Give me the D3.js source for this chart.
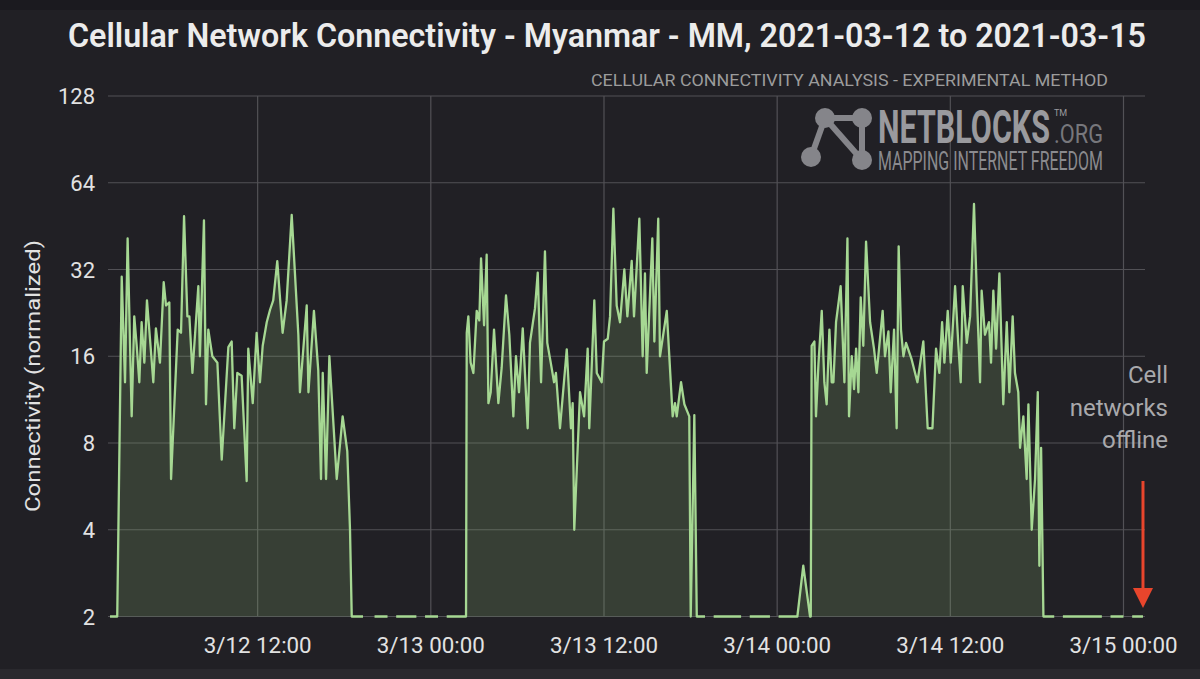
<!DOCTYPE html>
<html>
<head>
<meta charset="utf-8">
<script src="https://cdn.jsdelivr.net/npm/d3@7"></script>
<style>
body { margin: 0; background: #212025; }
svg { display: block; font-family: Roboto, "Noto Sans", sans-serif; }
</style>
</head>
<body>
<div id="chart"></div>
<script>
// hours after 2021-03-12 00:00, normalized connectivity (null = gap)
var dayOne = [[1.77,2],[2.27,2],[2.58,30.2],[2.81,13],[2.99,41],[3.27,9.9],[3.45,22],[3.62,17.4],[3.80,13],[3.96,21],[4.15,15.2],[4.33,25],[4.54,18.4],[4.77,13],[4.95,20],[5.23,15.2],[5.49,28.9],[5.65,24],[5.88,24.6],[6.0,6.0],[6.46,19.8],[6.69,19.3],[6.90,49],[7.13,22],[7.27,22],[7.48,14],[7.89,28],[8.0,16],[8.28,47.4],[8.42,10.9],[8.58,19.8],[8.86,16],[9.21,15.2],[9.51,7],[9.97,17.2],[10.2,18],[10.38,9],[10.59,14],[10.89,13.7],[11.24,5.9],[11.35,17],[11.66,11],[11.93,19.3],[12.16,13],[12.35,17.4],[12.63,21],[12.86,23.2],[13.08,25],[13.36,34.2],[13.73,19.3],[14.01,25],[14.36,49.5],[14.82,19],[14.93,12],[15.40,24],[15.52,12],[15.90,23],[16.2,14.3],[16.39,6],[16.51,14],[16.74,6],[16.97,16],[17.48,6],[17.89,9.9],[18.21,7.5],[18.40,4],[18.52,2]];
var offlineOne = [[19.3,2],[19.8,null],[20.1,2],[21.0,2],[21.3,null],[21.6,2],[23.0,2],[23.3,null],[23.6,2],[24.5,2],[24.8,null],[25.1,2],[26.37,2]];
var dayTwo = [[26.44,2],[26.49,19.3],[26.6,22],[26.76,15.2],[26.95,14],[27.18,23],[27.36,21.3],[27.48,35],[27.69,20.5],[27.87,36],[27.99,11],[28.15,12],[28.38,19.8],[28.68,11],[28.91,14.6],[29.21,26],[29.44,19],[29.72,9.9],[29.90,16],[30.11,12],[30.37,20],[30.71,9],[30.87,17.8],[31.22,23.5],[31.41,31.2],[31.64,13],[31.91,37],[32.07,17.8],[32.31,15.2],[32.54,13],[32.67,14],[32.95,9],[33.42,16.9],[33.71,9],[33.83,11],[33.94,4],[34.34,12],[34.62,9.9],[34.87,17],[34.98,9],[35.33,25],[35.50,14],[35.84,13],[36.0,18],[36.26,18.4],[36.42,22],[36.65,52],[36.88,24],[37.11,21],[37.41,32],[37.62,22],[37.92,34.3],[38.08,22],[38.45,48],[38.68,16],[38.84,31],[38.96,14],[39.35,41],[39.49,18],[39.76,48],[39.88,16],[40.35,23],[40.76,9.9],[40.92,11],[41.04,9.9],[41.34,13],[41.57,10.9],[41.91,9.9],[42.01,2],[42.26,10],[42.43,2]];
var offlineTwo = [[43.0,2],[43.3,null],[43.6,2],[45.5,2],[45.8,null],[46.1,2],[47.5,2],[47.8,null],[48.1,2],[49.40,2]];
var dayThree = [[49.81,3],[50.28,2],[50.33,2],[50.39,17.4],[50.58,18],[50.69,9.9],[50.86,15],[51.09,23],[51.27,13],[51.43,10.9],[51.62,19.8],[51.78,13],[51.90,13],[52.08,21],[52.40,28],[52.66,13],[52.87,41],[52.98,9.9],[53.17,16],[53.33,12.3],[53.47,17],[53.63,12],[53.79,25.6],[53.97,17.4],[54.16,40],[54.44,21],[54.71,17],[54.90,14],[55.31,23],[55.47,16],[55.71,19.5],[55.87,12],[56.10,19.8],[56.28,9],[56.42,38.5],[56.58,19.8],[56.75,16],[56.93,17.8],[57.32,15.6],[57.72,13],[58.13,18],[58.43,9],[58.76,9],[59.01,17],[59.24,14],[59.43,21],[59.59,15.2],[59.82,23],[60.03,15.2],[60.33,28],[60.56,17.4],[60.72,13],[60.86,28],[61.14,17.8],[61.37,22],[61.64,54],[61.83,27],[62.06,13],[62.17,27],[62.40,19],[62.68,21],[62.82,15.2],[62.98,27],[63.17,17],[63.40,31],[63.67,10.9],[63.91,21],[64.09,12],[64.32,22],[64.48,14],[64.71,12],[64.83,7.7],[65.06,9.9],[65.29,6],[65.41,10.9],[65.64,4],[65.87,6],[66.06,12],[66.17,3],[66.29,7.7],[66.45,2]];
var offlineThree = [[67.2,2],[67.5,null],[67.8,2],[70.5,2],[70.8,null],[71.1,2],[72.0,2],[72.3,null],[72.6,2],[73.35,2]];

var yTicks = [2, 4, 8, 16, 32, 64, 128];
var xTickHours = [12, 24, 36, 48, 60, 72];
var viewHours = [1.63, 73.49];
var titleText = 'Cellular Network Connectivity - Myanmar - MM, 2021-03-12 to 2021-03-15';
var subtitleText = 'CELLULAR CONNECTIVITY ANALYSIS - EXPERIMENTAL METHOD';
var yLabel = 'Connectivity (normalized)';
var noteLines = ['Cell', 'networks', 'offline'];
var offlineAt = 73.35;

var W = 1200, H = 679;
var margin = {top: 96, right: 55, bottom: 62, left: 108};
var origin = Date.UTC(2021, 2, 12);
function toDate(h) { return new Date(origin + h * 3600e3); }

var data = dayOne.concat(offlineOne, dayTwo, offlineTwo, dayThree, offlineThree)
    .map(function(d) { return {t: toDate(d[0]), v: d[1]}; });

var svg = d3.select('#chart').append('svg')
    .attr('width', W).attr('height', H);

svg.append('rect').attr('width', W).attr('height', H).attr('fill', '#212025');
svg.append('rect').attr('width', W).attr('height', 10).attr('fill', '#1b1a1f');
svg.append('rect').attr('y', 669).attr('width', W).attr('height', 10).attr('fill', '#2a292e');

var x = d3.scaleUtc()
    .domain(viewHours.map(toDate))
    .range([margin.left, W - margin.right]);
var y = d3.scaleLog().base(2)
    .domain([2, 128])
    .range([H - margin.bottom - 0.5, margin.top]);

// gridlines
var grid = svg.append('g').attr('stroke', '#525156').attr('stroke-width', 1.2);
grid.selectAll('line.h').data(yTicks).enter().append('line')
    .attr('x1', margin.left).attr('x2', W - margin.right)
    .attr('y1', function(d) { return y(d); }).attr('y2', function(d) { return y(d); });
grid.selectAll('line.v').data(xTickHours).enter().append('line')
    .attr('x1', function(d) { return x(toDate(d)); }).attr('x2', function(d) { return x(toDate(d)); })
    .attr('y1', y(128)).attr('y2', y(2));

// y axis labels
svg.append('g').selectAll('text').data(yTicks).enter().append('text')
    .attr('x', 95).attr('y', function(d) { return y(d) + 8; })
    .attr('text-anchor', 'end')
    .attr('fill', '#e2e2e2').attr('font-size', 22)
    .text(function(d) { return d; });

// x axis labels
var fmt = d3.utcFormat('%-m/%-d %H:%M');
svg.append('g').selectAll('text').data(xTickHours).enter().append('text')
    .attr('x', function(d) { return x(toDate(d)); }).attr('y', 653)
    .attr('text-anchor', 'middle')
    .attr('fill', '#e2e2e2').attr('font-size', 22)
    .attr('textLength', 108).attr('lengthAdjust', 'spacingAndGlyphs')
    .text(function(d) { return fmt(toDate(d)); });

svg.append('text')
    .attr('transform', 'translate(40,376) rotate(-90)')
    .attr('text-anchor', 'middle')
    .attr('fill', '#e2e2e2').attr('font-size', 21)
    .attr('textLength', 272).attr('lengthAdjust', 'spacingAndGlyphs')
    .text(yLabel);

// area + line
var area = d3.area()
    .defined(function(d) { return d.v != null; })
    .x(function(d) { return x(d.t); })
    .y0(y(2))
    .y1(function(d) { return y(d.v); });
var line = d3.line()
    .defined(function(d) { return d.v != null; })
    .x(function(d) { return x(d.t); })
    .y(function(d) { return y(d.v); });

svg.append('path').datum(data)
    .attr('fill', '#8fbf7a').attr('fill-opacity', 0.2)
    .attr('d', area);
svg.append('path').datum(data)
    .attr('fill', 'none')
    .attr('stroke', '#a6d893')
    .attr('stroke-width', 2.3)
    .attr('stroke-linejoin', 'round')
    .attr('d', line);

// title
svg.append('text')
    .attr('x', 68).attr('y', 47)
    .attr('fill', '#ececec').attr('font-size', 33).attr('font-weight', 600)
    .attr('textLength', 1078).attr('lengthAdjust', 'spacingAndGlyphs')
    .text(titleText);
svg.append('text')
    .attr('x', 591).attr('y', 86)
    .attr('fill', '#9c9c9c').attr('font-size', 17)
    .attr('textLength', 517).attr('lengthAdjust', 'spacingAndGlyphs')
    .text(subtitleText);

// watermark
var logo = svg.append('g').attr('fill', '#85858a').attr('stroke', '#85858a');
var nodes = [[825,118],[862,118],[811,157],[862,160]];
var links = [[0,1],[0,2],[0,3],[1,3]];
logo.selectAll('line').data(links).enter().append('line')
    .attr('x1', function(d) { return nodes[d[0]][0]; }).attr('y1', function(d) { return nodes[d[0]][1]; })
    .attr('x2', function(d) { return nodes[d[1]][0]; }).attr('y2', function(d) { return nodes[d[1]][1]; })
    .attr('stroke-width', 6);
logo.selectAll('circle').data(nodes).enter().append('circle')
    .attr('cx', function(d) { return d[0]; }).attr('cy', function(d) { return d[1]; })
    .attr('r', 10).attr('stroke', 'none');
logo.append('text').attr('x', 878).attr('y', 143).attr('stroke', 'none')
    .attr('font-size', 46).attr('font-weight', 700).attr('fill', '#9a9a9e')
    .attr('textLength', 172).attr('lengthAdjust', 'spacingAndGlyphs').text('NETBLOCKS');
logo.append('text').attr('x', 1054).attr('y', 116).attr('stroke', 'none')
    .attr('font-size', 9).attr('fill', '#9a9a9e').text('TM');
logo.append('text').attr('x', 1054).attr('y', 143).attr('stroke', 'none')
    .attr('font-size', 26).attr('fill', '#77777c')
    .attr('textLength', 49).attr('lengthAdjust', 'spacingAndGlyphs').text('.ORG');
logo.append('text').attr('x', 878).attr('y', 170).attr('stroke', 'none')
    .attr('font-size', 26).attr('fill', '#8a8a8e')
    .attr('textLength', 225).attr('lengthAdjust', 'spacingAndGlyphs').text('MAPPING INTERNET FREEDOM');

// annotation
svg.append('g').selectAll('text').data(noteLines).enter().append('text')
    .attr('x', 1168).attr('y', function(d, i) { return 383 + i * 32.5; })
    .attr('text-anchor', 'end')
    .attr('fill', '#a9a9ac').attr('font-size', 24)
    .text(function(d) { return d; });

var ax = x(toDate(offlineAt));
svg.append('line')
    .attr('x1', ax).attr('x2', ax).attr('y1', 481).attr('y2', 592)
    .attr('stroke', '#e8452c').attr('stroke-width', 3);
svg.append('path')
    .attr('d', 'M' + (ax - 10) + ',588L' + (ax + 10) + ',588L' + ax + ',608Z')
    .attr('fill', '#e8452c');
</script>
</body>
</html>
